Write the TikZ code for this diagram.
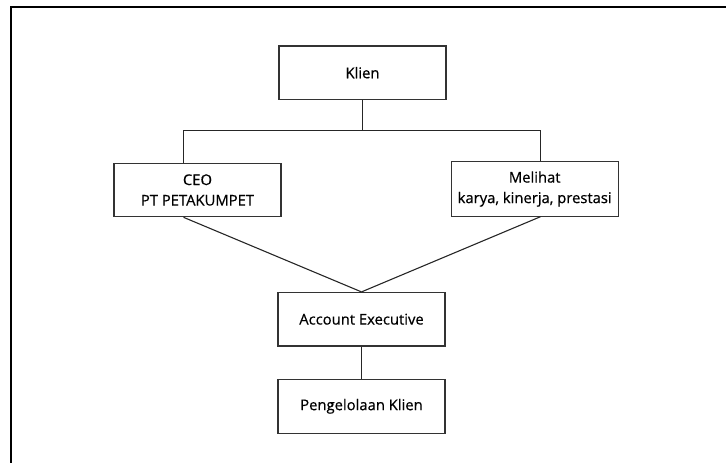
\documentclass[tikz,border=0pt]{standalone}
\usepackage{fontspec}
\setmainfont[FakeBold=0.6,AutoFakeBold=0.6]{Open Sans}
\begin{document}
\begin{tikzpicture}[x=1pt,y=-1pt,
  box/.style={draw=black!80, line width=1.1pt, minimum width=167pt, minimum height=53.5pt,
    align=center, inner sep=0pt, font=\fontsize{14.8}{20.5}\selectfont\bfseries},
  link/.style={draw=black!85, line width=1.1pt},
  frame/.style={draw=black, line width=2pt}]
\useasboundingbox (0,0) rectangle (726,463);
\draw[frame] (11,470) |- (730,6.5);
\node[box] (klien) at (362.5,72.7) {Klien};
\node[box] (ceo) at (197.5,190) {CEO\\PT PETAKUMPET};
\node[box, minimum height=54.3pt] (mel) at (534.7,189) {Melihat\\karya, kinerja, prestasi};
\node[box] (ae) at (361.5,319.2) {Account Executive};
\node[box, minimum height=54pt] (peng) at (361.5,406.3) {Pengelolaan Klien};
\coordinate (cl) at (183.5,0);
\coordinate (cr) at (540.5,0);
\coordinate (j) at (362.5,130.5);
\draw[link] (klien.south) -- (klien.south |- j);
\draw[link] (ceo.north -| cl) |- (j) -| (mel.north -| cr);
\draw[link] (ceo.south -| cl) -- (ae.north);
\draw[link] (mel.south -| cr) -- (ae.north);
\draw[link] (ae.south) -- (peng.north);
\end{tikzpicture}
\end{document}
